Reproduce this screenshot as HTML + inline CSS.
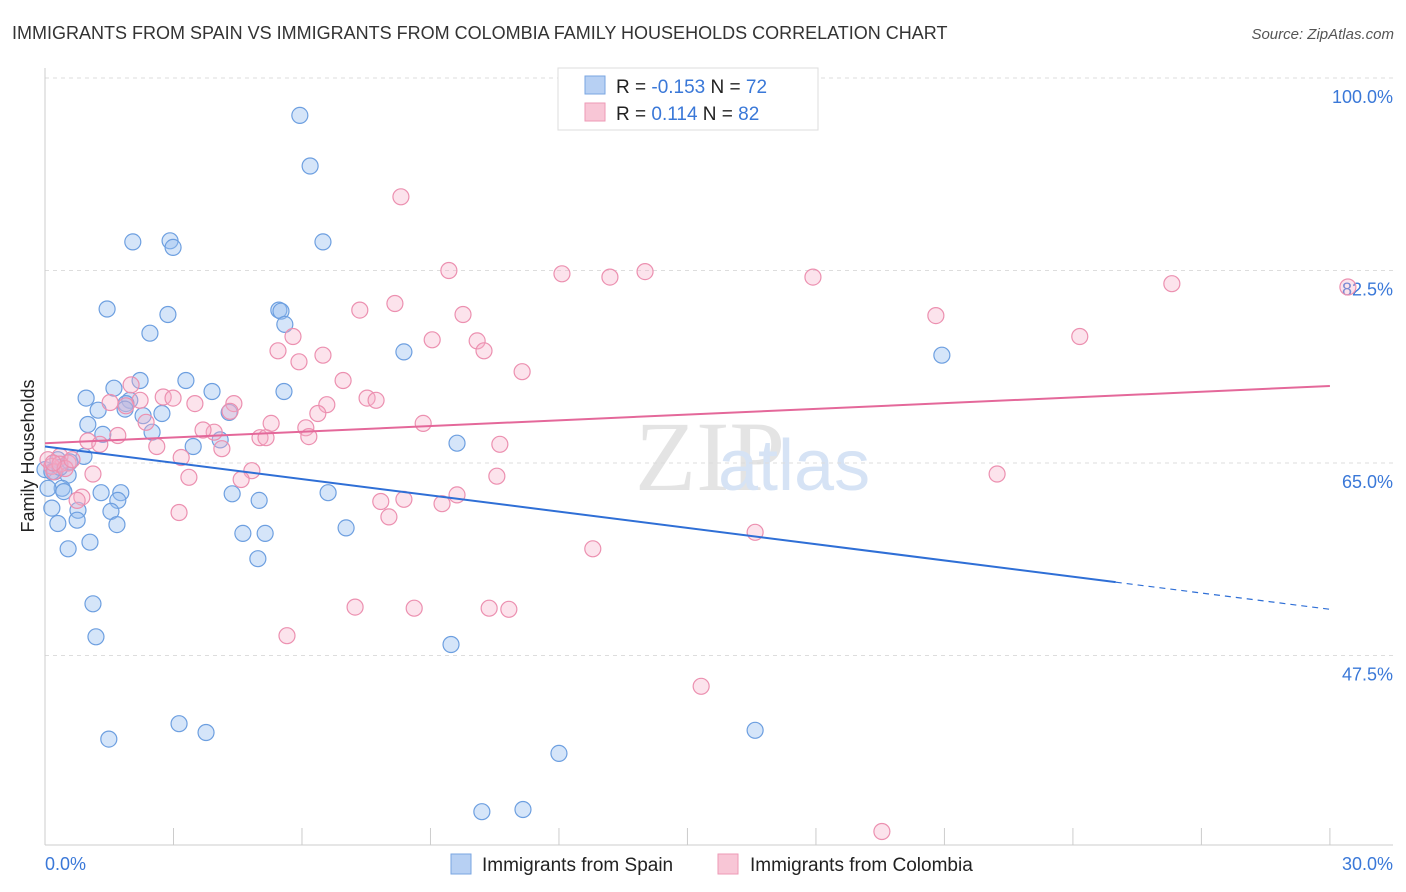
<!DOCTYPE html>
<html><head><meta charset="utf-8">
<style>
body{margin:0;background:#fff;width:1406px;height:892px;overflow:hidden;font-family:"Liberation Sans",sans-serif;}
svg{display:block}
</style></head>
<body>
<svg id="chart" width="1406" height="892" xmlns="http://www.w3.org/2000/svg">
<text x="12" y="39" font-size="18" fill="#333">IMMIGRANTS FROM SPAIN VS IMMIGRANTS FROM COLOMBIA FAMILY HOUSEHOLDS CORRELATION CHART</text>
<text x="1394" y="39" font-size="15" fill="#555" font-style="italic" text-anchor="end">Source: ZipAtlas.com</text>
<text x="635" y="490" font-size="100" fill="#e4e4e4" font-family="Liberation Serif,serif">ZIP</text>
<text x="718" y="490" font-size="72" fill="#d6e3f5">atlas</text>
<g id="grid"></g>
<g id="axes"></g>
<g id="pts"></g>
<g id="trends"></g>
<text transform="translate(34,456) rotate(-90)" font-size="18" fill="#222" text-anchor="middle">Family Households</text>
<g>
<rect x="558" y="68" width="260" height="62" fill="#fff" stroke="#ddd"/>
<rect x="585" y="76" width="20" height="18" fill="#b7d0f3" stroke="#7aa6e2"/>
<rect x="585" y="103" width="20" height="18" fill="#f8c6d6" stroke="#ee9ab6"/>
<text x="616" y="93" font-size="19" fill="#222">R = <tspan fill="#3a78d8">-0.153</tspan>   N = <tspan fill="#3a78d8">72</tspan></text>
<text x="616" y="120" font-size="19" fill="#222">R =  <tspan fill="#3a78d8"> 0.114</tspan>   N = <tspan fill="#3a78d8">82</tspan></text>
</g>
<g>
<rect x="451" y="854" width="20" height="20" fill="#b7d0f3" stroke="#7aa6e2"/>
<text x="482" y="871" font-size="19" fill="#222">Immigrants from Spain</text>
<rect x="718" y="854" width="20" height="20" fill="#f8c6d6" stroke="#ee9ab6"/>
<text x="750" y="871" font-size="19" fill="#222">Immigrants from Colombia</text>
</g>
</svg>
<script>
const yTicks=[100,82.5,65,47.5];
const yTickLabels=["100.0%","82.5%","65.0%","47.5%"];
const xTickLabels=["0.0%","30.0%"];
const spainX=[5.95,6.19,2.05,2.92,2.99,6.49,1.45,2.87,5.46,5.51,5.60,2.45,8.38,20.94,2.22,3.29,1.61,3.90,5.58,0.96,1.98,1.89,1.24,1.87,4.30,2.73,2.29,1.00,2.50,1.35,4.09,3.46,9.62,0.91,0.30,0,0.23,0.54,0.40,0.44,1.31,1.77,4.37,6.61,5.00,1.70,0.77,1.54,0.75,0.30,1.68,7.03,4.62,5.14,1.05,0.54,4.97,1.12,1.19,9.48,3.13,3.76,1.49,16.58,12.0,10.2,11.16,0.16,0.07,0.16,0.35,0.58];
const spainY=[96.6,92.0,85.1,85.2,84.6,85.1,79.0,78.5,78.9,78.8,77.6,76.8,75.1,74.8,72.5,72.5,71.8,71.5,71.5,70.9,70.7,70.4,69.8,69.9,69.6,69.5,69.3,68.5,67.8,67.6,67.1,66.5,66.8,65.6,65.3,64.4,64.2,63.9,62.7,62.4,62.3,62.3,62.2,62.3,61.6,61.6,60.7,60.6,59.8,59.5,59.4,59.1,58.6,58.6,57.8,57.2,56.3,52.2,49.2,48.5,41.3,40.5,39.9,40.7,38.6,33.3,33.5,60.9,62.7,64.2,64.6,65.1];
const colX=[8.31,9.43,12.07,13.19,14.01,17.93,26.31,30.42,8.17,7.35,9.76,20.8,5.79,9.04,10.09,24.16,10.25,5.44,6.49,5.93,11.14,6.96,2.01,7.52,7.73,2.76,2.99,2.22,1.52,4.41,3.50,6.58,1.89,4.32,6.37,2.36,5.28,8.83,6.09,3.95,3.69,1.70,5.02,5.16,6.16,10.62,1.00,2.61,1.28,4.13,0.35,0.54,0.07,0.16,0.21,3.18,4.83,4.58,1.12,3.36,10.55,0.86,0.75,7.84,8.38,9.62,9.27,8.03,3.13,22.23,16.58,12.79,7.24,8.62,10.37,10.83,5.65,15.32,19.54,0.35,0.47,0.63,0.19];
const colY=[89.2,82.5,82.2,81.9,82.4,81.9,81.3,81.0,79.5,78.9,78.5,78.4,76.5,76.2,76.1,76.5,75.2,75.2,74.8,74.2,73.3,72.5,72.1,70.9,70.7,71.0,70.9,70.7,70.5,70.4,70.4,70.3,70.2,69.7,69.5,68.7,68.6,68.6,68.2,67.8,68.0,67.5,67.3,67.3,67.4,66.7,67.0,66.5,66.7,66.3,65.6,65.0,65.3,64.7,64.2,65.5,64.3,63.5,64.0,63.7,63.8,61.9,61.6,61.5,61.7,62.1,61.3,60.1,60.5,64.0,58.7,57.2,51.9,51.8,51.8,51.7,49.3,44.7,31.5,64.9,64.5,65.3,65.0];
const spainTrend=[66.5,51.7];
const colTrend=[66.8,72.0];
const NS="http://www.w3.org/2000/svg";
const X=v=>45+v*42.83;
const Y=v=>463-(v-65)*11;
function mk(tag,attrs,parent){const e=document.createElementNS(NS,tag);for(const k in attrs)e.setAttribute(k,attrs[k]);parent.appendChild(e);return e;}
const grid=document.getElementById('grid'),axes=document.getElementById('axes'),pts=document.getElementById('pts'),tr=document.getElementById('trends');
yTicks.forEach((t,i)=>{
 const l=mk('line',{x1:45,x2:1393,y1:Y(t),y2:Y(t),stroke:'#ddd','stroke-dasharray':'4,4'},grid);
 
 
 const tx=mk('text',{x:1393,y:Y(t)+25,'font-size':18,fill:'#3a78d8','text-anchor':'end'},axes);
 tx.textContent=yTickLabels[i];
 
 
});
const al=mk('line',{x1:45,x2:45,y1:68,y2:845,stroke:'#ccc'},axes);


const bl=mk('line',{x1:45,x2:1393,y1:845,y2:845,stroke:'#ccc'},axes);


for(let i=0;i<=10;i++){
 const tk=mk('line',{x1:X(i*3),x2:X(i*3),y1:828,y2:845,stroke:'#ccc'},axes);
 
 
}
[[0,'start',45],[1,'end',1393]].forEach(([i,a,x])=>{
 const t=mk('text',{x:x,y:870,'font-size':18,fill:'#3a78d8','text-anchor':a},axes);
 t.textContent=xTickLabels[i];
 
 
});
spainX.forEach((x,i)=>{
 const c=mk('circle',{cx:X(x),cy:Y(spainY[i]),r:8,fill:'rgba(150,190,240,0.4)',stroke:'#6d9fe0','stroke-width':1.2},pts);
 
 
});
colX.forEach((x,i)=>{
 const c=mk('circle',{cx:X(x),cy:Y(colY[i]),r:8,fill:'rgba(245,175,200,0.35)',stroke:'#ec90b0','stroke-width':1.2},pts);
 
 
});
const sAt=x=>spainTrend[0]+(spainTrend[1]-spainTrend[0])*x/30;
const s1=mk('line',{x1:X(0),y1:Y(sAt(0)),x2:X(25),y2:Y(sAt(25)),stroke:'#2f6fd6','stroke-width':2},tr);


const s2=mk('line',{x1:X(25),y1:Y(sAt(25)),x2:X(30),y2:Y(sAt(30)),stroke:'#2f6fd6','stroke-width':1.2,'stroke-dasharray':'6,5'},tr);


const c1=mk('line',{x1:X(0),y1:Y(colTrend[0]),x2:X(30),y2:Y(colTrend[1]),stroke:'#e4689a','stroke-width':2},tr);


</script>
</body></html>
